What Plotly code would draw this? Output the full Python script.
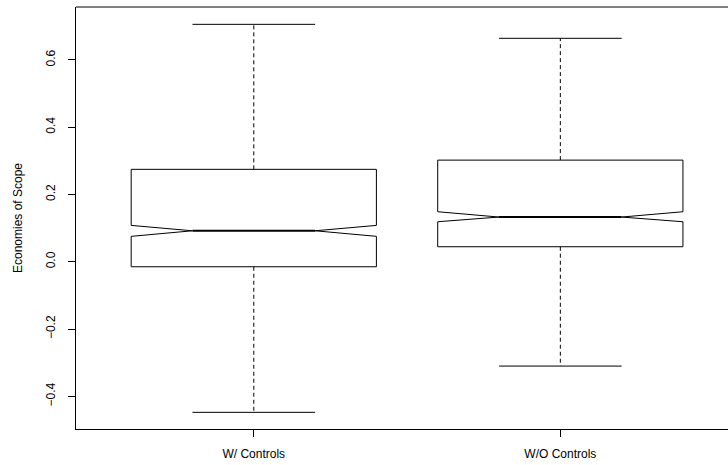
import plotly.graph_objects as go

categories = ["W/ Controls", "W/O Controls"]
positions = [1, 2]
whisker_low = [-0.4475, -0.310]
q1 = [-0.0149, 0.0446]
notch_low = [0.0755, 0.1189]
median = [0.092, 0.1328]
notch_high = [0.108, 0.1486]
q3 = [0.2746, 0.302]
whisker_high = [0.7055, 0.664]

y_ticks = [-0.4, -0.2, 0.0, 0.2, 0.4, 0.6]
y_tick_text = ["\u22120.4", "\u22120.2", "0.0", "0.2", "0.4", "0.6"]

W = 0.4  # half box width (boxwex 0.8)
fig = go.Figure()
line = dict(color="black", width=1)

for i, c in enumerate(positions):
    xs = [c - W, c + W, c + W, c + W / 2, c + W, c + W, c - W, c - W, c - W / 2, c - W, c - W]
    ys = [q1[i], q1[i], notch_low[i], median[i], notch_high[i], q3[i], q3[i], notch_high[i], median[i], notch_low[i], q1[i]]
    fig.add_trace(go.Scatter(x=xs, y=ys, mode="lines", line=line, hoverinfo="skip"))
    # median
    fig.add_trace(go.Scatter(x=[c - W / 2, c + W / 2], y=[median[i], median[i]], mode="lines",
                             line=dict(color="black", width=2), hoverinfo="skip"))
    # whiskers
    fig.add_trace(go.Scatter(x=[c, c], y=[q3[i], whisker_high[i]], mode="lines",
                             line=dict(color="black", width=1, dash="4px,3px"), hoverinfo="skip"))
    fig.add_trace(go.Scatter(x=[c, c], y=[q1[i], whisker_low[i]], mode="lines",
                             line=dict(color="black", width=1, dash="4px,3px"), hoverinfo="skip"))
    # caps
    fig.add_trace(go.Scatter(x=[c - W / 2, c + W / 2], y=[whisker_high[i]] * 2, mode="lines",
                             line=line, hoverinfo="skip"))
    fig.add_trace(go.Scatter(x=[c - W / 2, c + W / 2], y=[whisker_low[i]] * 2, mode="lines",
                             line=line, hoverinfo="skip"))

# top frame line
fig.add_shape(type="line", xref="paper", yref="paper", x0=0, x1=1, y0=1, y1=1,
              line=dict(color="black", width=1))

font = dict(family="Liberation Sans, Arial, sans-serif", size=12, color="black")
fig.update_layout(
    width=728, height=465,
    margin=dict(l=76, r=0, t=7, b=36),
    paper_bgcolor="white", plot_bgcolor="white",
    showlegend=False,
    font=font,
    xaxis=dict(range=[0.42, 2.547], tickvals=positions, ticktext=categories,
               showgrid=False, zeroline=False, showline=True, linecolor="black", linewidth=1,
               ticks="outside", ticklen=7, tickcolor="black", tickwidth=1,
               ticklabelstandoff=7, automargin=False, fixedrange=True),
    yaxis=dict(range=[-0.497, 0.757], tickvals=y_ticks, ticktext=y_tick_text, tickangle=-90,
               showgrid=False, zeroline=False, showline=True, linecolor="black", linewidth=1,
               ticks="outside", ticklen=7, tickcolor="black", tickwidth=1,
               ticklabelstandoff=8, automargin=False,
               title=dict(text="Economies of Scope", font=font, standoff=19), fixedrange=True),
)

fig.write_html("out.html", config={"displayModeBar": False},
               post_script="document.body.style.margin='0';document.body.style.overflow='hidden';")
